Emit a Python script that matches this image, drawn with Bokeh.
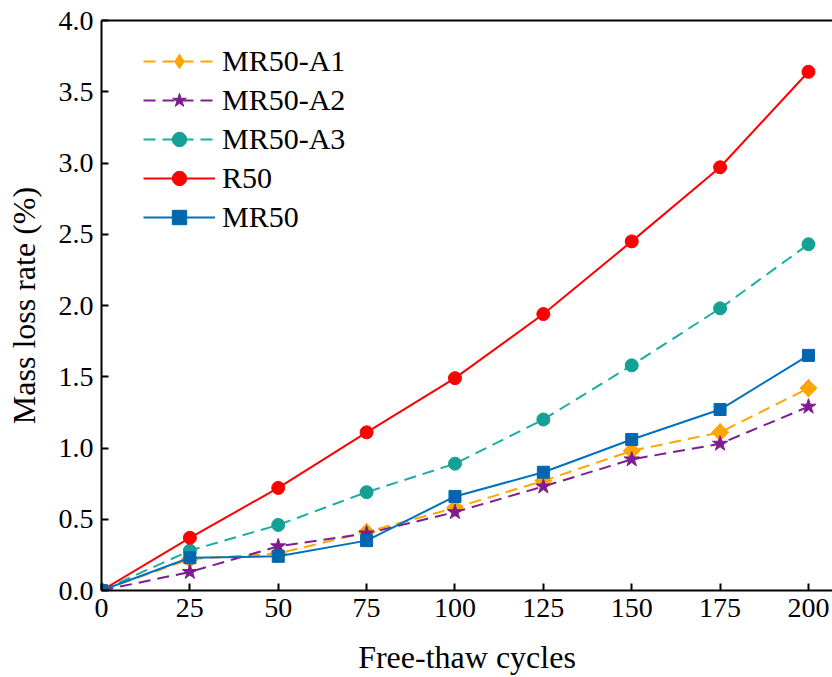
import math
from bokeh.plotting import figure
from bokeh.models import Range1d, LinearAxis, FixedTicker, Legend, LegendItem
from bokeh.embed import file_html
from bokeh.resources import INLINE

cycles = [0, 25, 50, 75, 100, 125, 150, 175, 200]
mr50_a1 = [0, 0.22, 0.26, 0.41, 0.58, 0.77, 0.98, 1.11, 1.42]
mr50_a2 = [0, 0.13, 0.31, 0.40, 0.55, 0.73, 0.92, 1.03, 1.29]
mr50_a3 = [0, 0.28, 0.46, 0.69, 0.89, 1.20, 1.58, 1.98, 2.43]
r50 = [0, 0.37, 0.72, 1.11, 1.49, 1.94, 2.45, 2.97, 3.64]
mr50 = [0, 0.23, 0.24, 0.35, 0.66, 0.83, 1.06, 1.27, 1.65]

x_ticks = [0, 25, 50, 75, 100, 125, 150, 175, 200]
y_ticks = [0.0, 0.5, 1.0, 1.5, 2.0, 2.5, 3.0, 3.5, 4.0]
y_tick_labels = ["0.0", "0.5", "1.0", "1.5", "2.0", "2.5", "3.0", "3.5", "4.0"]
x_title = "Free-thaw cycles"
y_title = "Mass loss rate (%)"

FONT = "Liberation Serif"

p = figure(width=832, height=677, x_range=Range1d(0, 206.8), y_range=Range1d(0, 4.0),
           output_backend="svg", toolbar_location=None,
           min_border_left=101, min_border_right=0, min_border_top=20, min_border_bottom=87)
p.outline_line_color = None
p.xgrid.visible = False
p.ygrid.visible = False
p.background_fill_color = "white"
p.border_fill_color = "white"

for ax in (p.xaxis[0], p.yaxis[0]):
    ax.axis_line_width = 2
    ax.axis_line_color = "black"
    ax.major_tick_in = 7
    ax.major_tick_out = 0
    ax.major_tick_line_width = 2
    ax.major_tick_line_color = "black"
    ax.minor_tick_line_color = None
    ax.major_label_text_font = FONT
    ax.major_label_text_font_size = "28px"
    ax.major_label_text_color = "black"
    ax.axis_label_text_font = FONT
    ax.axis_label_text_font_size = "32px"
    ax.axis_label_text_font_style = "normal"
    ax.axis_label_text_color = "black"

p.xaxis.ticker = FixedTicker(ticks=x_ticks)
p.yaxis.ticker = FixedTicker(ticks=y_ticks)
p.yaxis.major_label_overrides = {t: s for t, s in zip(y_ticks, y_tick_labels)}
p.xaxis.axis_label = x_title
p.yaxis.axis_label = y_title
p.xaxis.major_label_standoff = 8
p.xaxis.axis_label_standoff = 19
p.yaxis.major_label_standoff = 8
p.yaxis.axis_label_standoff = 14

top = LinearAxis(ticker=FixedTicker(ticks=[]), axis_line_width=2, axis_line_color="black",
                 major_label_text_font_size="0px", major_tick_in=0, major_tick_out=0,
                 minor_tick_line_color=None)
p.add_layout(top, "above")

# name, values, line colour, marker, size, dash, marker colour
series = [
    ("MR50-A1", mr50_a1, "#FFA500", "diamond", 18, "12 7", "#FFA500"),
    ("MR50-A2", mr50_a2, "#7E1E8E", "star", 16, "12 7", "#7E1E8E"),
    ("MR50-A3", mr50_a3, "#1AADA2", "circle", 13, "12 7", "#15A096"),
    ("R50", r50, "#FF0000", "circle", 13, "solid", "#FF0000"),
    ("MR50", mr50, "#0070C0", "square", 12, "solid", "#0066B0"),
]

items = []
for name, vals, color, marker, size, dash, mcol in series:
    ln = p.line(cycles, vals, line_color=color, line_width=2, line_dash=dash)
    sc = p.scatter(cycles, vals, marker=marker, size=size, fill_color=mcol,
                   line_color=mcol, line_width=1)
    if marker == "diamond":
        # widen the diamond in the plot with a rotated square on top
        p.scatter(cycles, vals, marker="square", size=12, angle=math.pi / 4,
                  fill_color=mcol, line_color=mcol, line_width=1)
    items.append(LegendItem(label=name, renderers=[ln, sc]))

legend = Legend(items=items, location=(42, 355), glyph_width=72, glyph_height=36,
                spacing=3, label_standoff=7, padding=0, margin=0,
                border_line_color=None, background_fill_alpha=0,
                label_text_font=FONT, label_text_font_size="30px", label_text_color="black")
p.add_layout(legend, "center")

open("out.html", "w").write(file_html(p, INLINE))
